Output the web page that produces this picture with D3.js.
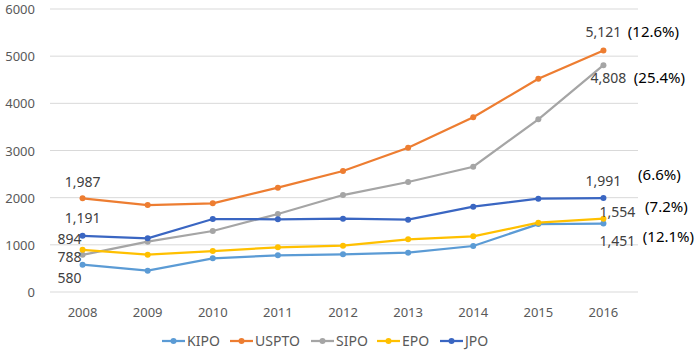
<!DOCTYPE html>
<html>
<head>
<meta charset="utf-8">
<script src="https://cdn.jsdelivr.net/npm/d3@7"></script>
<style>
body { margin: 0; background: #fff; }
text { font-family: "Noto Sans", "Open Sans", sans-serif; }
</style>
</head>
<body>
<script>
const w = 700;
const h = 350;

const years = ["2008", "2009", "2010", "2011", "2012", "2013", "2014", "2015", "2016"];
const offices = ["KIPO", "USPTO", "SIPO", "EPO", "JPO"];
const colors = ["#5B9BD5", "#ED7D31", "#A5A5A5", "#FFC000", "#3A66C2"];

const kipo  = [580, 452, 714, 777, 798, 834, 975, 1440, 1451];
const uspto = [1987, 1844, 1880, 2211, 2565, 3059, 3703, 4522, 5121];
const sipo  = [788, 1067, 1293, 1654, 2056, 2332, 2656, 3660, 4808];
const epo   = [894, 791, 869, 947, 982, 1117, 1180, 1470, 1554];
const jpo   = [1191, 1138, 1547, 1541, 1554, 1533, 1809, 1979, 1991];

const yTicks = [0, 1000, 2000, 3000, 4000, 5000, 6000];
const growth = ["(12.1%)", "(12.6%)", "(25.4%)", "(7.2%)", "(6.6%)"];

const series = [kipo, uspto, sipo, epo, jpo];

// label offsets [dx, dy] for first and last points, per series
const firstLbl = [[-13, 13], [0, -16], [-13, 2], [-13, -11], [0, -18]];
const lastLbl  = [[14, 17], [0, -18], [5, 13], [14, -7], [0, -17]];
const pctLbl   = [[65, 13], [50, -18], [56, 13], [63, -12], [56, -23]];

const x = d3.scaleBand().domain(years).range([50, 636]);
const y = d3.scaleLinear().domain([0, 6000]).range([292, 9]);

let svg = d3.select("body")
    .append("svg")
    .attr("width", w)
    .attr("height", h)

// gridlines
svg.append("g")
    .selectAll("line")
    .data(yTicks)
    .enter()
    .append("line")
    .attr("x1", 50)
    .attr("x2", 638)
    .attr("y1", d => y(d))
    .attr("y2", d => y(d))
    .attr("stroke", "#d9d9d9")
    .attr("stroke-width", 1)

// y labels
svg.append("g")
    .selectAll("text")
    .data(yTicks)
    .enter()
    .append("text")
    .attr("x", 35)
    .attr("y", d => y(d) + 5)
    .attr("text-anchor", "end")
    .attr("font-size", 13)
    .attr("fill", "#595959")
    .text(d => d)

// x labels
svg.append("g")
    .selectAll("text")
    .data(years)
    .enter()
    .append("text")
    .attr("x", d => x(d) + x.bandwidth() / 2)
    .attr("y", 317)
    .attr("text-anchor", "middle")
    .attr("font-size", 13)
    .attr("fill", "#595959")
    .text(d => d)

const line = d3.line()
    .x((d, i) => x(years[i]) + x.bandwidth() / 2)
    .y(d => y(d))

series.forEach(function (s, k) {
    let g = svg.append("g");
    g.append("path")
        .datum(s)
        .attr("d", line)
        .attr("fill", "none")
        .attr("stroke", colors[k])
        .attr("stroke-width", 2.25)
    g.selectAll("circle")
        .data(s)
        .enter()
        .append("circle")
        .attr("cx", (d, i) => x(years[i]) + x.bandwidth() / 2)
        .attr("cy", d => y(d))
        .attr("r", 3)
        .attr("fill", colors[k])
});

// data labels at both ends
const fmt = d3.format(",");
series.forEach(function (s, k) {
    let x0 = x(years[0]) + x.bandwidth() / 2;
    let x1 = x(years[8]) + x.bandwidth() / 2;
    svg.append("text")
        .attr("x", x0 + firstLbl[k][0])
        .attr("y", y(s[0]) + firstLbl[k][1] + 5)
        .attr("text-anchor", "middle")
        .attr("font-size", 14)
        .attr("fill", "#404040")
        .text(fmt(s[0]))
    svg.append("text")
        .attr("x", x1 + lastLbl[k][0])
        .attr("y", y(s[8]) + lastLbl[k][1] + 5)
        .attr("text-anchor", "middle")
        .attr("font-size", 14)
        .attr("fill", "#404040")
        .text(fmt(s[8]))
    svg.append("text")
        .attr("x", x1 + pctLbl[k][0])
        .attr("y", y(s[8]) + pctLbl[k][1] + 5)
        .attr("text-anchor", "middle")
        .attr("font-size", 15)
        .attr("fill", "#000")
        .text(growth[k])
});

// legend
const legX = [162, 230, 311, 377, 440];
let leg = svg.append("g")
    .selectAll("g")
    .data(offices)
    .enter()
    .append("g")
    .attr("transform", (d, i) => "translate(" + legX[i] + ",341)")
leg.append("line")
    .attr("x1", 0).attr("x2", 23)
    .attr("stroke", (d, i) => colors[i])
    .attr("stroke-width", 2.25)
leg.append("circle")
    .attr("cx", 11.5).attr("r", 3)
    .attr("fill", (d, i) => colors[i])
leg.append("text")
    .attr("x", 25)
    .attr("y", 5)
    .attr("font-size", 14)
    .attr("fill", "#595959")
    .text(d => d)
</script>
</body>
</html>
